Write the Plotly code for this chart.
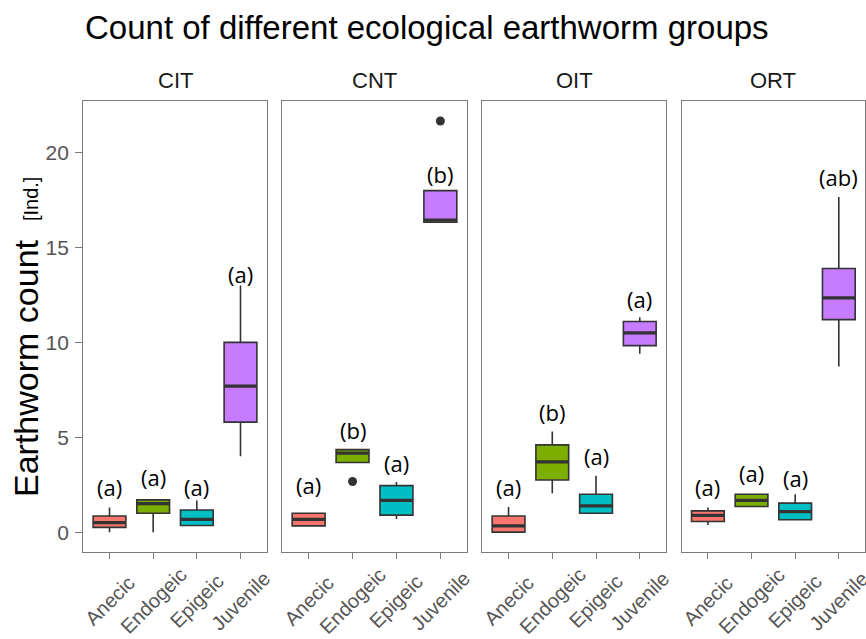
import plotly.graph_objects as go

# ---------------- data ----------------
sites = ["CIT", "CNT", "OIT", "ORT"]
groups = ["Anecic", "Endogeic", "Epigeic", "Juvenile"]

# per site: values for Anecic, Endogeic, Epigeic, Juvenile
q1 = {
    "CIT": [0.25, 1.0, 0.35, 5.8],
    "CNT": [0.33, 3.67, 0.9, 16.33],
    "OIT": [0.0, 2.75, 1.0, 9.83],
    "ORT": [0.56, 1.35, 0.65, 11.2],
}
median = {
    "CIT": [0.5, 1.5, 0.67, 7.7],
    "CNT": [0.67, 4.17, 1.67, 16.45],
    "OIT": [0.33, 3.7, 1.38, 10.5],
    "ORT": [0.88, 1.68, 1.08, 12.35],
}
q3 = {
    "CIT": [0.85, 1.7, 1.17, 10.0],
    "CNT": [1.0, 4.35, 2.45, 18.0],
    "OIT": [0.85, 4.6, 2.0, 11.1],
    "ORT": [1.12, 2.0, 1.53, 13.9],
}
lower = {
    "CIT": [0.0, 0.0, 0.33, 4.0],
    "CNT": [0.33, 3.67, 0.7, 16.33],
    "OIT": [0.0, 2.05, 1.0, 9.4],
    "ORT": [0.38, 1.35, 0.65, 8.73],
}
upper = {
    "CIT": [1.3, 1.7, 1.67, 13.0],
    "CNT": [1.0, 4.35, 2.65, 18.0],
    "OIT": [1.33, 5.3, 2.97, 11.33],
    "ORT": [1.3, 2.0, 2.0, 17.67],
}
# outliers: (site, group, value)
outlier_site = ["CNT", "CNT"]
outlier_group = ["Endogeic", "Juvenile"]
outlier_value = [2.67, 21.67]

# significance letters and their heights
letters = {
    "CIT": ["(a)", "(a)", "(a)", "(a)"],
    "CNT": ["(a)", "(b)", "(a)", "(b)"],
    "OIT": ["(a)", "(b)", "(a)", "(a)"],
    "ORT": ["(a)", "(a)", "(a)", "(ab)"],
}
letter_y = {
    "CIT": [2.4, 2.9, 2.4, 13.6],
    "CNT": [2.5, 5.4, 3.65, 18.9],
    "OIT": [2.4, 6.35, 4.0, 12.27],
    "ORT": [2.4, 3.1, 2.85, 18.7],
}

title_text = "Count of different ecological earthworm groups"
y_title = "Earthworm count  <span style='font-size:20px'>[Ind.]</span>"
y_ticks = [0, 5, 10, 15, 20]

colors = ["#F8766D", "#7CAE00", "#00BFC4", "#C77CFF"]

# ---------------- layout geometry ----------------
W, H = 866, 639
panel_px = [(83.3, 266.7), (282.3, 466.7), (482.3, 666.0), (681.7, 865.0)]
y_dom = [(H - 551.7) / H, (H - 100.7) / H]
y_range = [-1.03, 22.74]
box_w = 0.75
line_col = "#333333"
border_col = "#7a7a7a"
tick_col = "#555555"
xlabel_y_px = 601

fig = go.Figure()
layout = dict(
    template="none",
    width=W, height=H,
    margin=dict(l=0, r=0, t=0, b=0, pad=0),
    paper_bgcolor="white", plot_bgcolor="white",
    showlegend=False,
    font=dict(family="Liberation Sans, Arial, sans-serif"),
)

annotations = []
xpos = list(range(len(groups)))

for si, site in enumerate(sites):
    n = "" if si == 0 else str(si + 1)
    xa, ya = "x" + n, "y" + n
    for gi, g in enumerate(groups):
        fig.add_trace(go.Box(
            x=[xpos[gi]], q1=[q1[site][gi]], median=[median[site][gi]],
            q3=[q3[site][gi]], lowerfence=[lower[site][gi]],
            upperfence=[upper[site][gi]],
            width=box_w, fillcolor=colors[gi],
            line=dict(color=line_col, width=1.6),
            whiskerwidth=0, boxpoints=False,
            xaxis=xa, yaxis=ya, hoverinfo="skip",
        ))
        # thicker median line (ggplot style)
        fig.add_trace(go.Scatter(
            x=[xpos[gi] - box_w / 2, xpos[gi] + box_w / 2],
            y=[median[site][gi], median[site][gi]],
            mode="lines", line=dict(color=line_col, width=3.2),
            xaxis=xa, yaxis=ya, hoverinfo="skip",
        ))
        annotations.append(dict(
            x=xpos[gi], y=letter_y[site][gi], xref=xa, yref=ya,
            text=letters[site][gi], showarrow=False,
            font=dict(family="Open Sans, sans-serif", size=22, color="black"),
            xanchor="center", yanchor="middle",
        ))
        # rotated category label, centred under its tick (ggplot hjust=0.5)
        annotations.append(dict(
            x=xpos[gi], y=(H - xlabel_y_px) / H, xref=xa, yref="paper",
            text=g, showarrow=False, textangle=-45,
            xanchor="center", yanchor="middle",
            font=dict(size=20, color=tick_col),
        ))
    # outliers
    ox = [xpos[groups.index(g)] for s, g in zip(outlier_site, outlier_group) if s == site]
    oy = [v for s, v in zip(outlier_site, outlier_value) if s == site]
    if ox:
        fig.add_trace(go.Scatter(
            x=ox, y=oy, mode="markers",
            marker=dict(color=line_col, size=9),
            xaxis=xa, yaxis=ya, hoverinfo="skip",
        ))

    x0, x1 = panel_px[si]
    layout["xaxis" + n] = dict(
        domain=[x0 / W, x1 / W], range=[-0.6, 3.6],
        tickmode="array", tickvals=xpos, showticklabels=False,
        ticks="outside", ticklen=6, tickcolor=border_col, tickwidth=1.3,
        showline=True, mirror=True, linecolor=border_col, linewidth=1.3,
        showgrid=False, zeroline=False, anchor=ya, automargin=False,
    )
    ydict = dict(
        domain=y_dom, range=y_range, showgrid=False, zeroline=False,
        showline=True, mirror=True, linecolor=border_col, linewidth=1.3,
        anchor=xa, automargin=False,
    )
    if si == 0:
        ydict.update(tickmode="array", tickvals=y_ticks,
                     tickfont=dict(size=21, color=tick_col),
                     ticks="outside", ticklen=7, tickcolor=border_col,
                     tickwidth=1.3, ticklabelstandoff=2)
    else:
        ydict.update(showticklabels=False, ticks="")
    layout["yaxis" + n] = ydict

    annotations.append(dict(
        x=(x0 + x1) / 2 / W, y=(H - 80) / H, xref="paper", yref="paper",
        text=site, showarrow=False, xanchor="center", yanchor="middle",
        font=dict(size=22, color="#1a1a1a"),
    ))

annotations.append(dict(
    x=83 / W, y=(H - 28) / H, xref="paper", yref="paper",
    text=title_text, showarrow=False, xanchor="left", yanchor="middle",
    font=dict(size=33, color="black"),
))
annotations.append(dict(
    x=26 / W, y=(H - 337) / H, xref="paper", yref="paper",
    text=y_title, showarrow=False, textangle=-90,
    xanchor="center", yanchor="middle",
    font=dict(size=34, color="black"),
))
layout["annotations"] = annotations
fig.update_layout(**layout)
fig.write_html("out.html", config={"displayModeBar": False},
               post_script="document.body.style.margin='0';")
